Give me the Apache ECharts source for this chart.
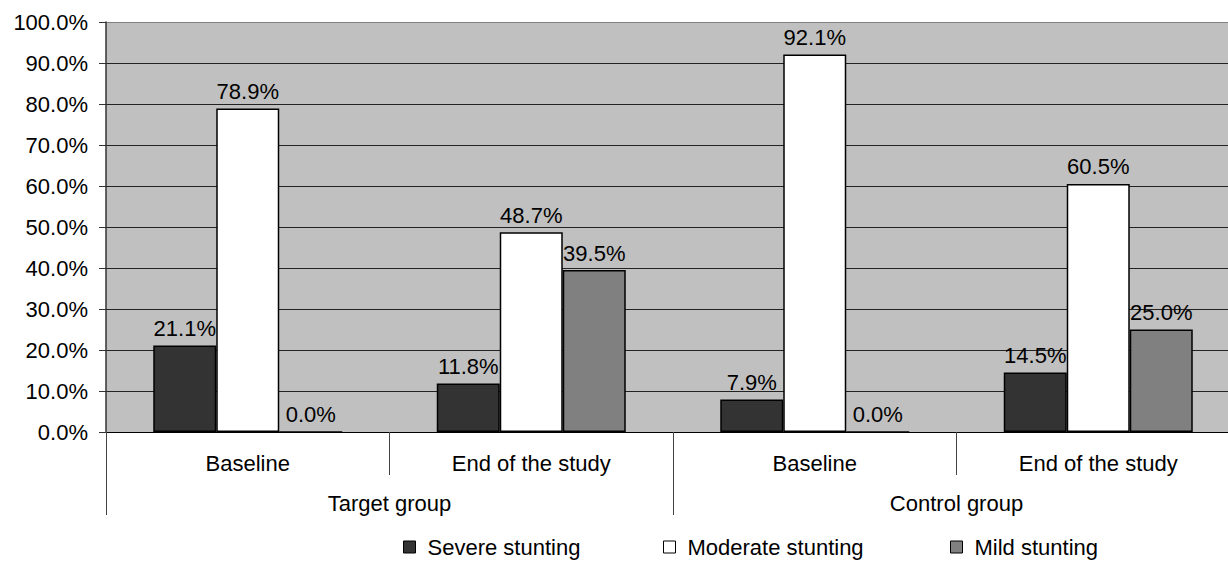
<!DOCTYPE html>
<html>
<head>
<meta charset="utf-8">
<script src="https://cdn.jsdelivr.net/npm/echarts@6/dist/echarts.min.js"></script>
<style>
  html, body { margin: 0; padding: 0; background: #ffffff; }
  #chart { width: 1228px; height: 562px; }
</style>
</head>
<body>
<div id="chart"></div>
<script>
// Stunting categories by group and time point (percent of children)
const phases = ['Baseline', 'End of the study', 'Baseline', 'End of the study'];
const groups = ['Target group', 'Control group'];
const severe = [21.1, 11.8, 7.9, 14.5];
const moderate = [78.9, 48.7, 92.1, 60.5];
const mild = [0.0, 39.5, 0.0, 25.0];
const seriesNames = ['Severe stunting', 'Moderate stunting', 'Mild stunting'];

const FONT = '"Liberation Sans", Arial, sans-serif';
const FS = 22;

const chart = echarts.init(document.getElementById('chart'), null, { renderer: 'svg' });

function barSeries(name, data, color) {
  return {
    name: name,
    type: 'bar',
    xAxisIndex: 0,
    data: data,
    barWidth: 63,
    barGap: '0%',
    itemStyle: { color: color, borderColor: '#000', borderWidth: 1.5 },
    label: {
      show: true,
      position: 'top',
      distance: 6,
      color: '#000',
      fontFamily: FONT,
      fontSize: FS,
      formatter: p => p.value.toFixed(1) + '%'
    },
    emphasis: { disabled: true }
  };
}

const legendLefts = [398, 658, 945];

chart.setOption({
  animation: false,
  color: ['#333333', '#ffffff', '#808080'],
  textStyle: { fontFamily: FONT },
  // plot area runs slightly past the right edge of the canvas
  grid: {
    left: 106, top: 22, width: 1134, height: 410,
    containLabel: false,
    outerBoundsMode: 'none',
    show: true, backgroundColor: '#c0c0c0', borderWidth: 0
  },
  legend: seriesNames.map((n, i) => ({
    data: [n],
    left: legendLefts[i],
    top: 531,
    itemWidth: 12,
    itemHeight: 12,
    icon: 'rect',
    itemStyle: { borderColor: '#000', borderWidth: 1 },
    textStyle: { fontFamily: FONT, fontSize: FS, color: '#000', padding: [0, 0, 0, 7] },
    selectedMode: false
  })),
  xAxis: [
    {
      type: 'category',
      data: phases,
      position: 'bottom',
      boundaryGap: true,
      axisLine: { show: true, lineStyle: { color: '#000', width: 1 } },
      axisTick: { show: true, interval: 0, length: 43, lineStyle: { color: '#444', width: 1 } },
      axisLabel: { interval: 0, margin: 20, color: '#000', fontFamily: FONT, fontSize: FS },
      splitLine: { show: false }
    },
    {
      type: 'category',
      data: groups,
      position: 'bottom',
      boundaryGap: true,
      axisLine: { show: false },
      axisTick: { show: true, interval: 0, length: 83, lineStyle: { color: '#444', width: 1 } },
      axisLabel: { interval: 0, margin: 60, color: '#000', fontFamily: FONT, fontSize: FS },
      splitLine: { show: false }
    }
  ],
  yAxis: {
    type: 'value',
    min: 0,
    max: 100,
    interval: 10,
    axisLine: { show: true, lineStyle: { color: '#333', width: 1.5 } },
    axisTick: { show: true, length: 7, lineStyle: { color: '#333' } },
    axisLabel: {
      margin: 18, color: '#000', fontFamily: FONT, fontSize: FS,
      formatter: v => v.toFixed(1) + '%'
    },
    splitLine: {
      show: true,
      lineStyle: {
        color: ['#222', '#222', '#222', '#222', '#222', '#222', '#222', '#222', '#222', '#222', '#808080'],
        width: 1
      }
    }
  },
  series: [
    barSeries(seriesNames[0], severe, '#333333'),
    barSeries(seriesNames[1], moderate, '#ffffff'),
    barSeries(seriesNames[2], mild, '#808080')
  ]
});
</script>
</body>
</html>
